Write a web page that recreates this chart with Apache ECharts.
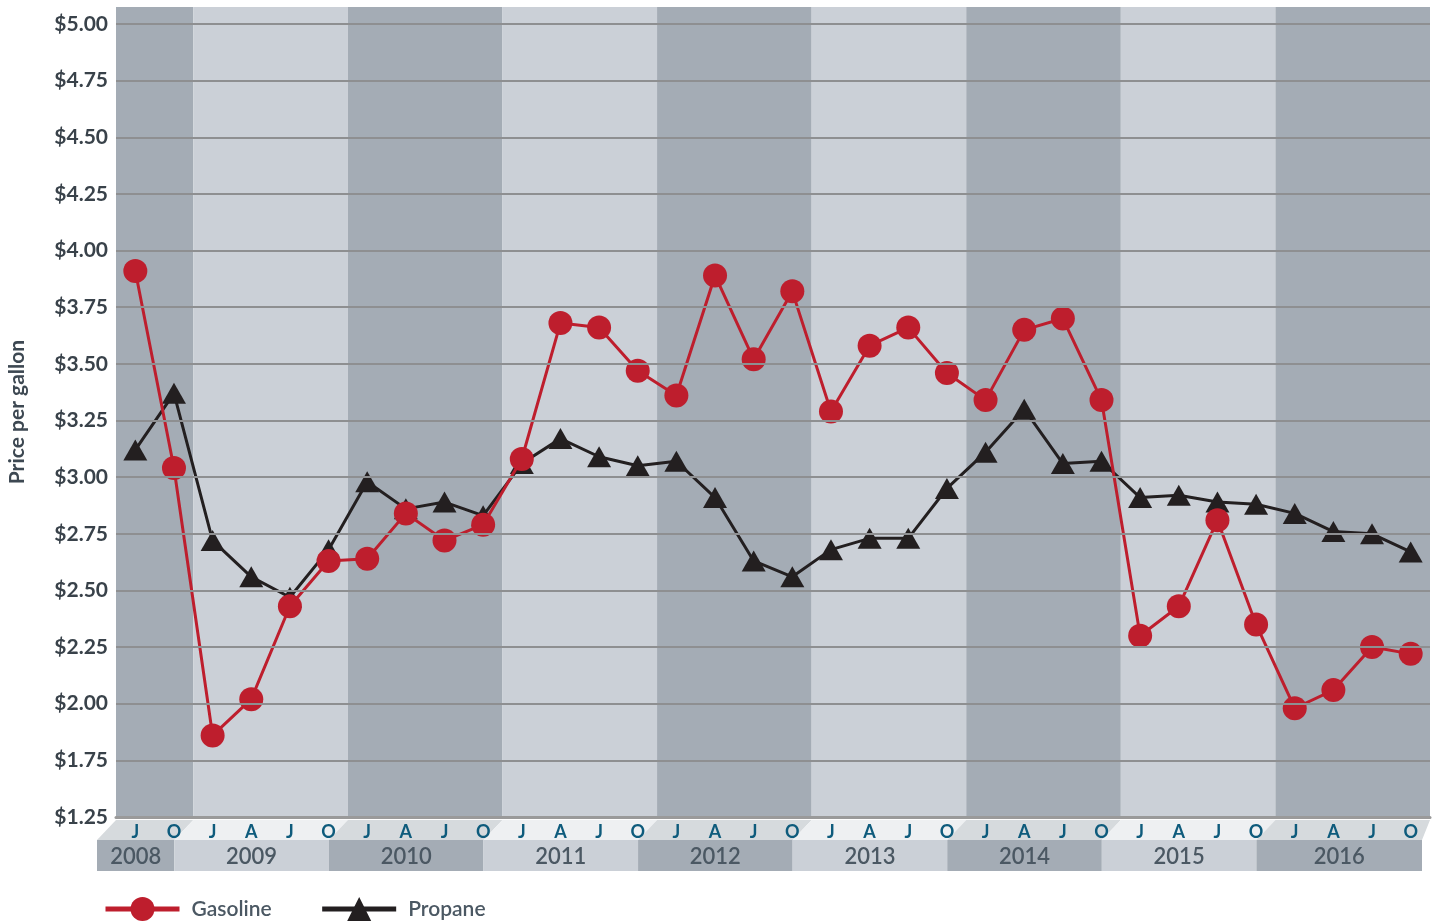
<!DOCTYPE html>
<html>
<head>
<meta charset="utf-8">
<title>Gasoline vs Propane price per gallon</title>
<script src="https://cdn.jsdelivr.net/npm/echarts@6/dist/echarts.min.js"></script>
</head>
<body style="margin: 0">
<div id="container" style="width: 1437px; height: 921px"></div>
<script type="text/javascript">

    // data
    const years = ['2008', '2009', '2010', '2011', '2012', '2013', '2014', '2015', '2016'];
    const yearQuarters = [
        ['J', 'O'],
        ['J', 'A', 'J', 'O'], ['J', 'A', 'J', 'O'], ['J', 'A', 'J', 'O'], ['J', 'A', 'J', 'O'],
        ['J', 'A', 'J', 'O'], ['J', 'A', 'J', 'O'], ['J', 'A', 'J', 'O'], ['J', 'A', 'J', 'O']
    ];
    const gasoline = [
        3.91, 3.04,
        1.86, 2.02, 2.43, 2.63,
        2.64, 2.84, 2.72, 2.79,
        3.08, 3.68, 3.66, 3.47,
        3.36, 3.89, 3.52, 3.82,
        3.29, 3.58, 3.66, 3.46,
        3.34, 3.65, 3.70, 3.34,
        2.30, 2.43, 2.81, 2.35,
        1.98, 2.06, 2.25, 2.22
    ];
    const propane = [
        3.12, 3.37,
        2.72, 2.56, 2.47, 2.68,
        2.98, 2.86, 2.89, 2.83,
        3.06, 3.17, 3.09, 3.05,
        3.07, 2.91, 2.63, 2.56,
        2.68, 2.73, 2.73, 2.95,
        3.11, 3.30, 3.06, 3.07,
        2.91, 2.92, 2.89, 2.88,
        2.84, 2.76, 2.75, 2.67
    ];
    // the bottom tick is an axis break: it sits where 1.50 would be but reads $1.25
    const yTickValues = [1.5, 1.75, 2.0, 2.25, 2.5, 2.75, 3.0, 3.25, 3.5, 3.75, 4.0, 4.25, 4.5, 4.75, 5.0];
    const yTickLabels = ['$1.25', '$1.75', '$2.00', '$2.25', '$2.50', '$2.75', '$3.00', '$3.25',
        '$3.50', '$3.75', '$4.00', '$4.25', '$4.50', '$4.75', '$5.00'];

    const font = 'Lato';
    const darkBand = '#a4acb5';
    const lightBand = '#cbd0d7';

    // categories and year boundaries (in category units)
    let categories = [];
    let bounds = [0];
    yearQuarters.forEach(function (q, i) {
        q.forEach(function (l, j) { categories.push(years[i] + ' ' + j + ' ' + l); });
        bounds.push(bounds[bounds.length - 1] + q.length);
    });
    const total = categories.length;

    let bands = years.map(function (y, i) {
        return [{xAxis: bounds[i], itemStyle: {color: i % 2 === 0 ? darkBand : lightBand}}, {xAxis: bounds[i + 1]}];
    });
    let gridLines = yTickValues.slice(1).map(function (v) { return {yAxis: v}; });

    let dom = document.getElementById('container');
    let chart = echarts.init(dom);

    chart.setOption({
        animation: false,
        grid: {left: 116, right: 7, top: 7, bottom: 104, outerBoundsMode: 'none', containLabel: false},
        legend: {
            left: 98, top: 892,
            itemWidth: 74, itemHeight: 30, itemGap: 48,
            lineStyle: {width: 5},
            textStyle: {fontFamily: font, fontSize: 21, fontWeight: 600, color: '#4b5863', padding: [0, 0, 0, 7]},
            data: ['Gasoline', 'Propane']
        },
        xAxis: [
            {
                type: 'category',
                data: categories,
                z: 10,
                axisLine: {lineStyle: {color: '#9a9a9a', width: 3}},
                axisTick: {inside: true, length: 9, interval: 0, lineStyle: {color: '#505a64', width: 2}},
                axisLabel: {
                    interval: 0, margin: 6,
                    fontFamily: font, fontSize: 18, fontWeight: 'bold', color: '#0e5b7c',
                    formatter: function (v) { return v.split(' ')[2]; }
                }
            },
            {type: 'value', min: 0, max: total, show: false}
        ],
        yAxis: {
            type: 'value',
            min: 1.5, max: 5.075,
            name: 'Price per gallon',
            nameLocation: 'middle', nameGap: 88,
            nameTextStyle: {fontFamily: font, fontSize: 21, fontWeight: 'bold', color: '#3d4852'},
            axisLine: {show: false},
            axisTick: {show: false},
            splitLine: {show: false},
            axisLabel: {
                customValues: yTickValues,
                margin: 8,
                fontFamily: font, fontSize: 21, fontWeight: 'bold', color: '#39424a',
                formatter: function (v) {
                    let i = yTickValues.findIndex(function (t) { return Math.abs(t - v) < 1e-6; });
                    return i >= 0 ? yTickLabels[i] : '';
                }
            }
        },
        series: [
            {
                type: 'line', xAxisIndex: 1, data: [], z: 1, silent: true,
                markArea: {silent: true, data: bands}
            },
            {
                type: 'line', xAxisIndex: 1, data: [], z: 2, silent: true,
                markLine: {
                    silent: true, symbol: ['none', 'none'], label: {show: false},
                    lineStyle: {color: '#8e8f91', width: 2, type: 'solid'},
                    data: gridLines
                }
            },
            {
                name: 'Propane', type: 'line', data: propane, z: 3,
                symbol: 'triangle', symbolSize: [24, 21],
                lineStyle: {color: '#231f20', width: 3},
                itemStyle: {color: '#231f20'}
            },
            {
                name: 'Gasoline', type: 'line', data: gasoline, z: 4,
                symbol: 'circle', symbolSize: 24,
                lineStyle: {color: '#be1e2d', width: 3},
                itemStyle: {color: '#be1e2d'}
            }
        ]
    });

    // slanted quarter ribbon and year boxes under the axis
    let gridBottom = chart.convertToPixel({yAxisIndex: 0}, 1.5);
    let ribTop = gridBottom + 3, ribBottom = gridBottom + 23, boxBottom = gridBottom + 54;
    let elements = [];
    years.forEach(function (y, i) {
        let x0 = chart.convertToPixel({xAxisIndex: 1}, bounds[i]);
        let x1 = chart.convertToPixel({xAxisIndex: 1}, bounds[i + 1]);
        let s0 = 19;
        let s1 = i === years.length - 1 ? 8 : 19;
        let dark = i % 2 === 0;
        elements.push({
            type: 'polygon', z: 0, silent: true,
            shape: {points: [[x0, ribTop], [x1, ribTop], [x1 - s1, ribBottom], [x0 - s0, ribBottom]]},
            style: {fill: dark ? '#d6dadd' : '#eef0f2'}
        });
        elements.push({
            type: 'rect', z: 0, silent: true,
            shape: {x: x0 - s0, y: ribBottom, width: (x1 - s1) - (x0 - s0), height: boxBottom - ribBottom},
            style: {fill: dark ? darkBand : lightBand}
        });
        elements.push({
            type: 'text', z: 1, silent: true,
            x: ((x0 - s0) + (x1 - s1)) / 2, y: (ribBottom + boxBottom) / 2 + 1,
            style: {text: y, fontFamily: font, fontSize: 22, fontWeight: 600, fill: '#4b5863',
                align: 'center', verticalAlign: 'middle'}
        });
    });
    chart.setOption({graphic: {elements: elements}});

</script>
</body>
</html>
